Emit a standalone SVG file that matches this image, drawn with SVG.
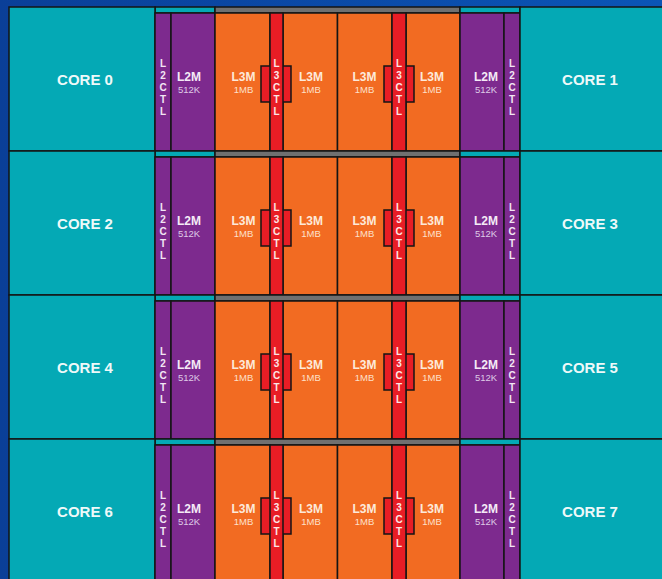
<svg xmlns="http://www.w3.org/2000/svg" width="662" height="579" viewBox="0 0 662 579">
<defs>
<linearGradient id="bg" x1="0" y1="0" x2="1" y2="0">
<stop offset="0" stop-color="#0a3f98"/>
<stop offset="1" stop-color="#0b55b6"/>
</linearGradient>
<g id="row">
<g id="strip">
<rect class="s teal" x="155" y="7" width="60" height="6"/>
<rect class="s grey" x="215" y="7" width="245" height="6"/>
<rect class="s teal" x="460" y="7" width="60" height="6"/>
</g>
</g>
</defs>
<style>
.s{stroke:#151515;stroke-width:1.5}
.teal{fill:#04a9b5}
.grey{fill:#707070}
.purple{fill:#7d2a8e}
.orange{fill:#f26b22}
.red{fill:#e81d25}
.core{font-family:"Liberation Sans",Arial,sans-serif;font-weight:bold;font-size:15px;fill:#eef9f9;text-anchor:middle}
.l2m{font-family:"Liberation Sans",Arial,sans-serif;font-weight:bold;font-size:12px;fill:#f4eaf6;text-anchor:middle}
.k{font-family:"Liberation Sans",Arial,sans-serif;font-size:9.5px;fill:#ddcbe6;text-anchor:middle}
.l3m{font-family:"Liberation Sans",Arial,sans-serif;font-weight:bold;font-size:12px;fill:#fde9da;text-anchor:middle}
.mb{font-family:"Liberation Sans",Arial,sans-serif;font-size:9.5px;fill:#fde0cb;text-anchor:middle}
.v{font-family:"Liberation Sans",Arial,sans-serif;font-weight:bold;font-size:10px;fill:#f2e6f4;text-anchor:middle}
.vr{font-family:"Liberation Sans",Arial,sans-serif;font-weight:bold;font-size:10px;fill:#fde6e6;text-anchor:middle}
</style>
<rect x="0" y="0" width="662" height="579" fill="url(#bg)"/>
<g id="connectors"></g>

<g id="row0">
<use href="#strip"/>
<g id="core0"><rect class="s teal" x="9" y="7" width="146" height="144"/><text class="core" x="85" y="85">CORE 0</text></g>
<g id="l2ctl0a"><rect class="s purple" x="155" y="13" width="16" height="138"/><text class="v"><tspan x="163" y="67">L</tspan><tspan x="163" y="79">2</tspan><tspan x="163" y="91">C</tspan><tspan x="163" y="103">T</tspan><tspan x="163" y="115">L</tspan></text></g>
<g id="l2m0a"><rect class="s purple" x="171" y="13" width="44" height="138"/><text class="l2m" x="189" y="81">L2M</text><text class="k" x="189" y="93">512K</text></g>
<g id="l3m0a"><rect class="s orange" x="215" y="13" width="55" height="138"/><text class="l3m" x="243.5" y="81">L3M</text><text class="mb" x="243.5" y="93">1MB</text></g>
<g id="l3m0b"><rect class="s orange" x="283" y="13" width="54.5" height="138"/><text class="l3m" x="311" y="81">L3M</text><text class="mb" x="311" y="93">1MB</text></g>
<g id="l3ctl0a"><rect class="s red" x="261" y="66" width="30" height="36"/><rect class="s red" x="270" y="13" width="13" height="138"/><text class="vr"><tspan x="276.5" y="67">L</tspan><tspan x="276.5" y="79">3</tspan><tspan x="276.5" y="91">C</tspan><tspan x="276.5" y="103">T</tspan><tspan x="276.5" y="115">L</tspan></text></g>
<g id="l3m0c"><rect class="s orange" x="337.5" y="13" width="54.5" height="138"/><text class="l3m" x="364.5" y="81">L3M</text><text class="mb" x="364.5" y="93">1MB</text></g>
<g id="l3m0d"><rect class="s orange" x="406" y="13" width="54" height="138"/><text class="l3m" x="432" y="81">L3M</text><text class="mb" x="432" y="93">1MB</text></g>
<g id="l3ctl0b"><rect class="s red" x="384" y="66" width="30" height="36"/><rect class="s red" x="392" y="13" width="14" height="138"/><text class="vr"><tspan x="399" y="67">L</tspan><tspan x="399" y="79">3</tspan><tspan x="399" y="91">C</tspan><tspan x="399" y="103">T</tspan><tspan x="399" y="115">L</tspan></text></g>
<g id="l2m0b"><rect class="s purple" x="460" y="13" width="44" height="138"/><text class="l2m" x="486" y="81">L2M</text><text class="k" x="486" y="93">512K</text></g>
<g id="l2ctl0b"><rect class="s purple" x="504" y="13" width="16" height="138"/><text class="v"><tspan x="512" y="67">L</tspan><tspan x="512" y="79">2</tspan><tspan x="512" y="91">C</tspan><tspan x="512" y="103">T</tspan><tspan x="512" y="115">L</tspan></text></g>
<g id="core1"><rect class="s teal" x="520" y="7" width="146" height="144"/><text class="core" x="590" y="85">CORE 1</text></g>
</g>

<g id="row1" transform="translate(0,144)">
<use href="#strip"/>
<g id="core2"><rect class="s teal" x="9" y="7" width="146" height="144"/><text class="core" x="85" y="85">CORE 2</text></g>
<g id="l2ctl1a"><rect class="s purple" x="155" y="13" width="16" height="138"/><text class="v"><tspan x="163" y="67">L</tspan><tspan x="163" y="79">2</tspan><tspan x="163" y="91">C</tspan><tspan x="163" y="103">T</tspan><tspan x="163" y="115">L</tspan></text></g>
<g id="l2m1a"><rect class="s purple" x="171" y="13" width="44" height="138"/><text class="l2m" x="189" y="81">L2M</text><text class="k" x="189" y="93">512K</text></g>
<g id="l3m1a"><rect class="s orange" x="215" y="13" width="55" height="138"/><text class="l3m" x="243.5" y="81">L3M</text><text class="mb" x="243.5" y="93">1MB</text></g>
<g id="l3m1b"><rect class="s orange" x="283" y="13" width="54.5" height="138"/><text class="l3m" x="311" y="81">L3M</text><text class="mb" x="311" y="93">1MB</text></g>
<g id="l3ctl1a"><rect class="s red" x="261" y="66" width="30" height="36"/><rect class="s red" x="270" y="13" width="13" height="138"/><text class="vr"><tspan x="276.5" y="67">L</tspan><tspan x="276.5" y="79">3</tspan><tspan x="276.5" y="91">C</tspan><tspan x="276.5" y="103">T</tspan><tspan x="276.5" y="115">L</tspan></text></g>
<g id="l3m1c"><rect class="s orange" x="337.5" y="13" width="54.5" height="138"/><text class="l3m" x="364.5" y="81">L3M</text><text class="mb" x="364.5" y="93">1MB</text></g>
<g id="l3m1d"><rect class="s orange" x="406" y="13" width="54" height="138"/><text class="l3m" x="432" y="81">L3M</text><text class="mb" x="432" y="93">1MB</text></g>
<g id="l3ctl1b"><rect class="s red" x="384" y="66" width="30" height="36"/><rect class="s red" x="392" y="13" width="14" height="138"/><text class="vr"><tspan x="399" y="67">L</tspan><tspan x="399" y="79">3</tspan><tspan x="399" y="91">C</tspan><tspan x="399" y="103">T</tspan><tspan x="399" y="115">L</tspan></text></g>
<g id="l2m1b"><rect class="s purple" x="460" y="13" width="44" height="138"/><text class="l2m" x="486" y="81">L2M</text><text class="k" x="486" y="93">512K</text></g>
<g id="l2ctl1b"><rect class="s purple" x="504" y="13" width="16" height="138"/><text class="v"><tspan x="512" y="67">L</tspan><tspan x="512" y="79">2</tspan><tspan x="512" y="91">C</tspan><tspan x="512" y="103">T</tspan><tspan x="512" y="115">L</tspan></text></g>
<g id="core3"><rect class="s teal" x="520" y="7" width="146" height="144"/><text class="core" x="590" y="85">CORE 3</text></g>
</g>

<g id="row2" transform="translate(0,288)">
<use href="#strip"/>
<g id="core4"><rect class="s teal" x="9" y="7" width="146" height="144"/><text class="core" x="85" y="85">CORE 4</text></g>
<g id="l2ctl2a"><rect class="s purple" x="155" y="13" width="16" height="138"/><text class="v"><tspan x="163" y="67">L</tspan><tspan x="163" y="79">2</tspan><tspan x="163" y="91">C</tspan><tspan x="163" y="103">T</tspan><tspan x="163" y="115">L</tspan></text></g>
<g id="l2m2a"><rect class="s purple" x="171" y="13" width="44" height="138"/><text class="l2m" x="189" y="81">L2M</text><text class="k" x="189" y="93">512K</text></g>
<g id="l3m2a"><rect class="s orange" x="215" y="13" width="55" height="138"/><text class="l3m" x="243.5" y="81">L3M</text><text class="mb" x="243.5" y="93">1MB</text></g>
<g id="l3m2b"><rect class="s orange" x="283" y="13" width="54.5" height="138"/><text class="l3m" x="311" y="81">L3M</text><text class="mb" x="311" y="93">1MB</text></g>
<g id="l3ctl2a"><rect class="s red" x="261" y="66" width="30" height="36"/><rect class="s red" x="270" y="13" width="13" height="138"/><text class="vr"><tspan x="276.5" y="67">L</tspan><tspan x="276.5" y="79">3</tspan><tspan x="276.5" y="91">C</tspan><tspan x="276.5" y="103">T</tspan><tspan x="276.5" y="115">L</tspan></text></g>
<g id="l3m2c"><rect class="s orange" x="337.5" y="13" width="54.5" height="138"/><text class="l3m" x="364.5" y="81">L3M</text><text class="mb" x="364.5" y="93">1MB</text></g>
<g id="l3m2d"><rect class="s orange" x="406" y="13" width="54" height="138"/><text class="l3m" x="432" y="81">L3M</text><text class="mb" x="432" y="93">1MB</text></g>
<g id="l3ctl2b"><rect class="s red" x="384" y="66" width="30" height="36"/><rect class="s red" x="392" y="13" width="14" height="138"/><text class="vr"><tspan x="399" y="67">L</tspan><tspan x="399" y="79">3</tspan><tspan x="399" y="91">C</tspan><tspan x="399" y="103">T</tspan><tspan x="399" y="115">L</tspan></text></g>
<g id="l2m2b"><rect class="s purple" x="460" y="13" width="44" height="138"/><text class="l2m" x="486" y="81">L2M</text><text class="k" x="486" y="93">512K</text></g>
<g id="l2ctl2b"><rect class="s purple" x="504" y="13" width="16" height="138"/><text class="v"><tspan x="512" y="67">L</tspan><tspan x="512" y="79">2</tspan><tspan x="512" y="91">C</tspan><tspan x="512" y="103">T</tspan><tspan x="512" y="115">L</tspan></text></g>
<g id="core5"><rect class="s teal" x="520" y="7" width="146" height="144"/><text class="core" x="590" y="85">CORE 5</text></g>
</g>

<g id="row3" transform="translate(0,432)">
<use href="#strip"/>
<g id="core6"><rect class="s teal" x="9" y="7" width="146" height="144"/><text class="core" x="85" y="85">CORE 6</text></g>
<g id="l2ctl3a"><rect class="s purple" x="155" y="13" width="16" height="138"/><text class="v"><tspan x="163" y="67">L</tspan><tspan x="163" y="79">2</tspan><tspan x="163" y="91">C</tspan><tspan x="163" y="103">T</tspan><tspan x="163" y="115">L</tspan></text></g>
<g id="l2m3a"><rect class="s purple" x="171" y="13" width="44" height="138"/><text class="l2m" x="189" y="81">L2M</text><text class="k" x="189" y="93">512K</text></g>
<g id="l3m3a"><rect class="s orange" x="215" y="13" width="55" height="138"/><text class="l3m" x="243.5" y="81">L3M</text><text class="mb" x="243.5" y="93">1MB</text></g>
<g id="l3m3b"><rect class="s orange" x="283" y="13" width="54.5" height="138"/><text class="l3m" x="311" y="81">L3M</text><text class="mb" x="311" y="93">1MB</text></g>
<g id="l3ctl3a"><rect class="s red" x="261" y="66" width="30" height="36"/><rect class="s red" x="270" y="13" width="13" height="138"/><text class="vr"><tspan x="276.5" y="67">L</tspan><tspan x="276.5" y="79">3</tspan><tspan x="276.5" y="91">C</tspan><tspan x="276.5" y="103">T</tspan><tspan x="276.5" y="115">L</tspan></text></g>
<g id="l3m3c"><rect class="s orange" x="337.5" y="13" width="54.5" height="138"/><text class="l3m" x="364.5" y="81">L3M</text><text class="mb" x="364.5" y="93">1MB</text></g>
<g id="l3m3d"><rect class="s orange" x="406" y="13" width="54" height="138"/><text class="l3m" x="432" y="81">L3M</text><text class="mb" x="432" y="93">1MB</text></g>
<g id="l3ctl3b"><rect class="s red" x="384" y="66" width="30" height="36"/><rect class="s red" x="392" y="13" width="14" height="138"/><text class="vr"><tspan x="399" y="67">L</tspan><tspan x="399" y="79">3</tspan><tspan x="399" y="91">C</tspan><tspan x="399" y="103">T</tspan><tspan x="399" y="115">L</tspan></text></g>
<g id="l2m3b"><rect class="s purple" x="460" y="13" width="44" height="138"/><text class="l2m" x="486" y="81">L2M</text><text class="k" x="486" y="93">512K</text></g>
<g id="l2ctl3b"><rect class="s purple" x="504" y="13" width="16" height="138"/><text class="v"><tspan x="512" y="67">L</tspan><tspan x="512" y="79">2</tspan><tspan x="512" y="91">C</tspan><tspan x="512" y="103">T</tspan><tspan x="512" y="115">L</tspan></text></g>
<g id="core7"><rect class="s teal" x="520" y="7" width="146" height="144"/><text class="core" x="590" y="85">CORE 7</text></g>
</g>
</svg>
